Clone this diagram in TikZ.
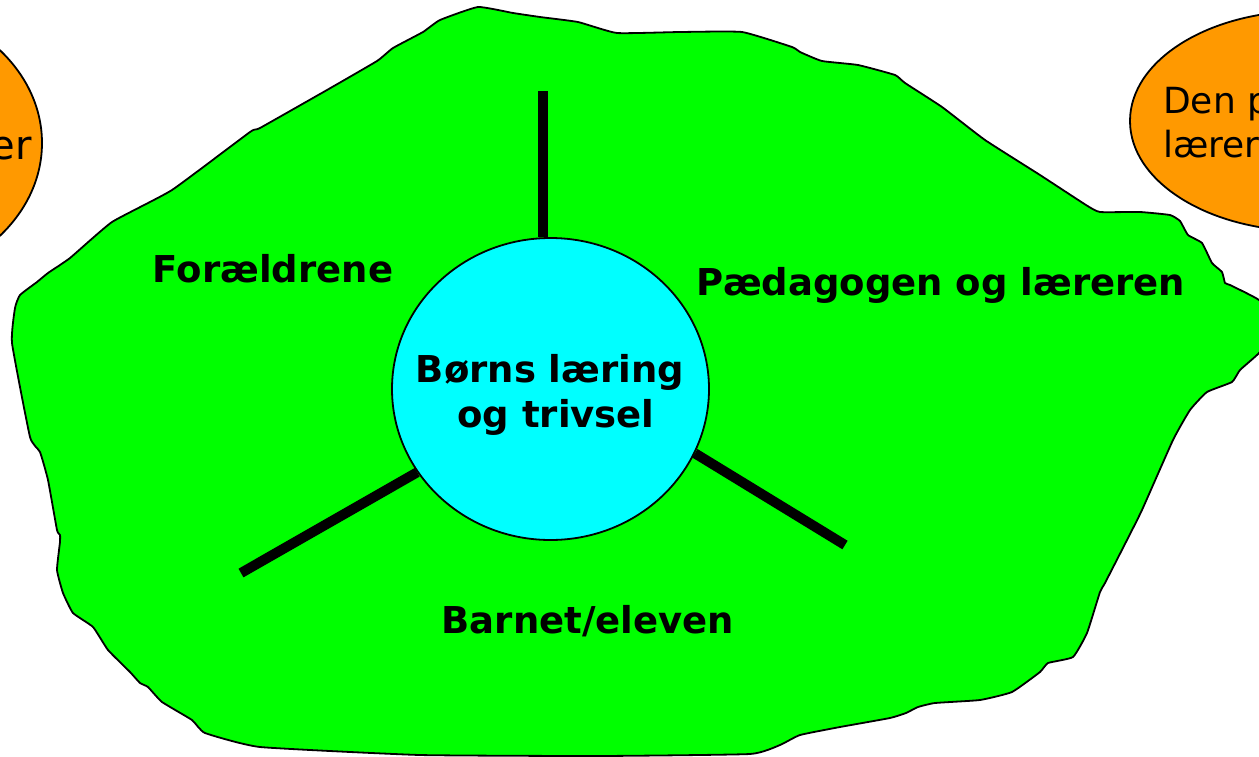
\documentclass[tikz,border=0pt]{standalone}
\usepackage{fontspec}
\setmainfont{DejaVu Sans}
\usetikzlibrary{shapes.geometric}
\definecolor{blobgreen}{HTML}{00FF00}
\definecolor{hubcyan}{HTML}{00FFFF}
\definecolor{ovalorange}{HTML}{FF9900}
\tikzset{
  blob/.style={draw=black, line width=1.8pt, fill=blobgreen, line join=round},
  spoke/.style={draw=black, line width=10pt},
  hub/.style={ellipse, draw=black, line width=1.8pt, fill=hubcyan, inner sep=0pt,
    minimum width=317pt, minimum height=302pt},
  oval/.style={ellipse, draw=black, line width=1.8pt, fill=ovalorange, inner sep=0pt},
  label/.style={font=\bfseries\fontsize{37}{45}\selectfont, anchor=base, inner sep=0pt},
  ovaltext/.style={font=\fontsize{36}{44}\selectfont, inner sep=0pt},
}
\begin{document}
\begin{tikzpicture}[x=1pt, y=-1pt]
\useasboundingbox (0,0) rectangle (1259,756);
\clip (0,0) rectangle (1259,756);
% orange ovals (cut by the edges)
\node[oval, minimum width=352pt, minimum height=286pt] (lo) at (-134,143) {};
\node[oval, minimum width=352pt, minimum height=220pt] (ro) at (1306,121) {};
\node[ovaltext, anchor=base east, font=\fontsize{40}{48}\selectfont] (lotext) at (32,159) {er};
\node[ovaltext, anchor=base west] (rotext1) at (1163,113) {Den p};
\node[ovaltext, anchor=base west] (rotext2) at (1163,157) {lærer};
% green area
\draw[blob] plot[smooth cycle, tension=0.25] coordinates {
 (12,343) (15,308) (20,295) (37,282) (48,273) (70,258) (112,222) (172,190)
 (250,132) (260,128) (327,90) (377,61) (393,48) (423,32) (440,20) (478,7)
 (513,13) (540,17) (578,22) (617,33) (680,32) (742,32) (792,47) (800,52)
 (822,61) (858,65) (895,75) (905,83) (942,107) (985,140) (1040,175) (1086,205)
 (1100,212) (1140,212) (1170,215) (1180,221) (1188,235) (1202,243) (1212,263)
 (1222,272) (1225,283) (1230,285) (1259,300) (1280,325) (1259,353) (1240,370)
 (1232,382) (1207,392) (1190,410) (1173,440) (1142,510) (1127,540) (1105,583)
 (1100,592) (1087,633) (1073,657) (1048,663) (1040,672) (1012,692) (980,700)
 (935,703) (918,707) (906,713) (890,718) (840,727) (800,735) (780,745)
 (750,754) (600,756) (420,755) (260,747) (205,733) (192,720) (162,702)
 (148,687) (140,683) (130,672) (108,650) (93,627) (73,613) (63,593) (57,570)
 (60,542) (60,535) (57,530) (48,480) (40,452) (30,437)
};
% hub
\node[hub] (c) at (550.5,389) {};
\node[label] (ctext1) at (550,382) {Børns læring};
\node[label] (ctext2) at (556,427) {og trivsel};
% spokes
\coordinate (t) at (543,91);
\coordinate (bl) at (241,573);
\coordinate (br) at (845,545);
\draw[spoke] (t) -- (t |- c.north);
\draw[spoke] (bl) -- (c.212);
\draw[spoke] (br) -- (c.-24.5);
% labels
\node[label] (foraeldre) at (273,282) {Forældrene};
\node[label] (paed) at (941,295) {Pædagogen og læreren};
\node[label] (barn) at (588,633) {Barnet/eleven};
\end{tikzpicture}
\end{document}
